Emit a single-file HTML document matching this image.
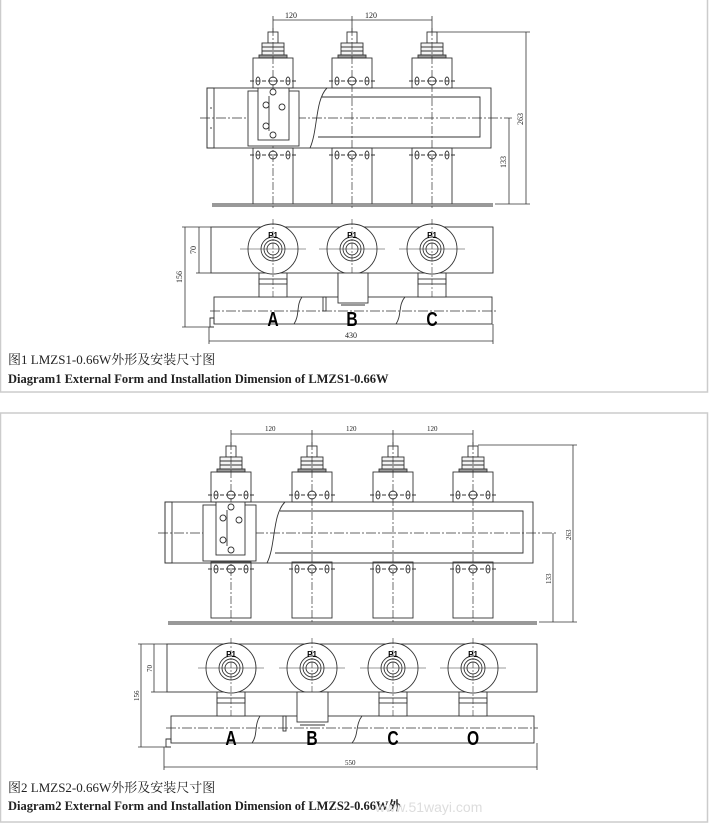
<!DOCTYPE html>
<html><head><meta charset="utf-8"><style>
html,body{margin:0;padding:0;background:#fff;}
svg{display:block;}
.t{font-family:"Liberation Serif","Noto Serif CJK SC",serif;fill:#222;}
</style></head><body>
<svg width="709" height="824" viewBox="0 0 709 824" xmlns="http://www.w3.org/2000/svg">
<defs>
<g id="fp" fill="none" stroke="#333" stroke-width="0.9">
  <rect x="-5" y="-56" width="10" height="11"/>
  <rect x="-11" y="-45" width="22" height="12" fill="#f4f4f4"/>
  <line x1="-11" y1="-41" x2="11" y2="-41"/><line x1="-11" y1="-37" x2="11" y2="-37"/>
  <rect x="-14" y="-33" width="28" height="3" fill="#999"/>
  <rect x="-20" y="-30" width="40" height="30"/>
  <circle cx="0" cy="-7" r="4"/>
  <ellipse cx="-15" cy="-7" rx="2" ry="4"/><ellipse cx="15" cy="-7" rx="2" ry="4"/>
  <line x1="-23" y1="-7" x2="23" y2="-7" stroke-dasharray="4 2"/>
  <rect x="-20" y="60" width="40" height="56"/>
  <circle cx="0" cy="67" r="4"/>
  <ellipse cx="-15" cy="67" rx="2" ry="4"/><ellipse cx="15" cy="67" rx="2" ry="4"/>
  <line x1="-23" y1="67" x2="23" y2="67" stroke-dasharray="4 2"/>
  <line x1="0" y1="-60" x2="0" y2="120" stroke-dasharray="8 2 2 2" stroke-width="0.7"/>
</g>
<g id="bp" fill="none" stroke="#333" stroke-width="0.9">
  <rect x="-14" y="24" width="28" height="24" fill="#fff"/>
  <rect x="-14" y="30" width="28" height="5"/>
  <circle r="25" fill="#fff"/><circle r="12"/><circle r="9"/><circle r="6"/>
  <line x1="-33" y1="0" x2="33" y2="0" stroke-width="0.6"/>
  <line x1="0" y1="-30" x2="0" y2="50" stroke-width="0.6" stroke-dasharray="6 2 2 2"/>
  <text x="0" y="-11" font-size="8" font-weight="bold" text-anchor="middle" fill="#000" stroke="none" font-family="Liberation Sans,sans-serif">P1</text>
</g>
</defs>

<rect x="0.5" y="-2" width="707" height="394" fill="none" stroke="#ccc" stroke-width="1.5"/>
<rect x="0.5" y="413" width="707" height="409" fill="none" stroke="#ccc" stroke-width="1.5"/>

<g fill="none" stroke="#333" stroke-width="0.9">
  <rect x="207" y="88" width="284" height="60" fill="#fff"/>
  <rect x="207" y="88" width="7" height="60"/>
  <path d="M327 88 C315 100 318 130 310 148"/>
  <path d="M322 97 H480 V137 H318"/>
  <line x1="212" y1="204" x2="493" y2="204"/><line x1="212" y1="206" x2="493" y2="206"/>
  <line x1="200" y1="118" x2="512" y2="118" stroke-dasharray="10 2 2 2" stroke-width="0.7"/>
</g>
<use href="#fp" x="273" y="88"/><use href="#fp" x="352" y="88"/><use href="#fp" x="432" y="88"/>
<g fill="none" stroke="#333" stroke-width="0.9">
  <rect x="248" y="91" width="51" height="55" fill="#fff"/>
  <rect x="258" y="88" width="31" height="52" fill="#fff"/>
  <circle cx="273" cy="92" r="3"/><circle cx="273" cy="135" r="3"/>
  <circle cx="266" cy="105" r="3"/><circle cx="266" cy="126" r="3"/><circle cx="282" cy="107" r="3"/>
  <line x1="269" y1="96" x2="269" y2="131"/>
  <line x1="210" y1="108" x2="212" y2="108"/><line x1="210" y1="128" x2="212" y2="128"/>
</g>
<g stroke="#333" stroke-width="0.8" fill="none">
  <line x1="273" y1="20" x2="432" y2="20"/>
  <line x1="273" y1="16" x2="273" y2="32"/><line x1="352" y1="16" x2="352" y2="32"/><line x1="432" y1="16" x2="432" y2="32"/>
  <line x1="437" y1="32" x2="530" y2="32"/>
  <line x1="526" y1="32" x2="526" y2="204"/>
  <line x1="495" y1="204" x2="530" y2="204"/>
  <line x1="509" y1="118" x2="509" y2="204"/>
</g>
<text class="t" x="285" y="18" font-size="8">120</text>
<text class="t" x="365" y="18" font-size="8">120</text>
<text class="t" font-size="8" transform="translate(523,125) rotate(-90)">263</text>
<text class="t" font-size="8" transform="translate(506,168) rotate(-90)">133</text>

<g fill="none" stroke="#333" stroke-width="0.9">
  <rect x="211" y="227" width="282" height="46" fill="#fff"/>
  <rect x="214" y="297" width="278" height="27" fill="#fff"/>
  <path d="M214 324 V318 H210 V327 H214"/>
  <line x1="210" y1="311" x2="496" y2="311" stroke-dasharray="10 2 2 2" stroke-width="0.7"/>
  <path d="M302 297 C296 305 300 315 294 324"/>
  <path d="M405 297 C398 305 402 315 396 324"/>
  <rect x="323" y="297" width="3" height="14"/>
</g>
<use href="#bp" x="273" y="249"/><use href="#bp" x="352" y="249"/><use href="#bp" x="432" y="249"/>
<g fill="none" stroke="#333" stroke-width="0.9"><rect x="338" y="273" width="30" height="30" fill="#fff"/><line x1="341" y1="305" x2="365" y2="305"/></g>
<g font-family="Liberation Sans,sans-serif" font-weight="bold" font-size="20" fill="#000" text-anchor="middle">
  <text transform="translate(273,326) scale(0.78,1)">A</text><text transform="translate(352,326) scale(0.78,1)">B</text><text transform="translate(432,326) scale(0.78,1)">C</text>
</g>
<g stroke="#333" stroke-width="0.8" fill="none">
  <line x1="209" y1="341" x2="493" y2="341"/><line x1="209" y1="327" x2="209" y2="344"/><line x1="493" y1="324" x2="493" y2="344"/>
  <line x1="185" y1="227" x2="185" y2="327"/><line x1="182" y1="227" x2="211" y2="227"/><line x1="182" y1="327" x2="210" y2="327"/>
  <line x1="199" y1="227" x2="199" y2="273"/><line x1="196" y1="273" x2="211" y2="273"/>
</g>
<text class="t" x="345" y="338" font-size="8">430</text>
<text class="t" font-size="8" transform="translate(182,283) rotate(-90)">156</text>
<text class="t" font-size="8" transform="translate(196,254) rotate(-90)">70</text>

<text class="t" x="8" y="364" font-size="13">图1  LMZS1-0.66W外形及安装尺寸图</text>
<text class="t" x="8" y="383" font-size="12.5" font-weight="bold">Diagram1  External Form and Installation Dimension of LMZS1-0.66W</text>

<g fill="none" stroke="#333" stroke-width="0.9">
  <rect x="165" y="502" width="368" height="61" fill="#fff"/>
  <rect x="165" y="502" width="7" height="61"/>
  <path d="M285 502 C272 515 276 545 267 563"/>
  <path d="M280 511 H523 V553 H275"/>
  <line x1="168" y1="622" x2="537" y2="622"/><line x1="168" y1="624" x2="537" y2="624"/>
  <line x1="158" y1="533" x2="556" y2="533" stroke-dasharray="10 2 2 2" stroke-width="0.7"/>
</g>
<use href="#fp" x="231" y="502"/><use href="#fp" x="312" y="502"/><use href="#fp" x="393" y="502"/><use href="#fp" x="473" y="502"/>
<g fill="none" stroke="#333" stroke-width="0.9">
  <rect x="203" y="505" width="53" height="56" fill="#fff"/>
  <rect x="216" y="502" width="29" height="53" fill="#fff"/>
  <circle cx="231" cy="507" r="3"/><circle cx="231" cy="550" r="3"/>
  <circle cx="223" cy="518" r="3"/><circle cx="223" cy="540" r="3"/><circle cx="239" cy="520" r="3"/>
  <line x1="227" y1="510" x2="227" y2="546"/>
</g>
<g stroke="#333" stroke-width="0.8" fill="none">
  <line x1="231" y1="434" x2="473" y2="434"/>
  <line x1="231" y1="430" x2="231" y2="445"/><line x1="312" y1="430" x2="312" y2="445"/><line x1="393" y1="430" x2="393" y2="445"/><line x1="473" y1="430" x2="473" y2="445"/>
  <line x1="478" y1="445" x2="577" y2="445"/>
  <line x1="573" y1="445" x2="573" y2="622"/>
  <line x1="539" y1="622" x2="577" y2="622"/>
  <line x1="553" y1="533" x2="553" y2="622"/>
</g>
<text class="t" x="265" y="431" font-size="7">120</text>
<text class="t" x="346" y="431" font-size="7">120</text>
<text class="t" x="427" y="431" font-size="7">120</text>
<text class="t" font-size="7" transform="translate(571,540) rotate(-90)">263</text>
<text class="t" font-size="7" transform="translate(551,584) rotate(-90)">133</text>

<g fill="none" stroke="#333" stroke-width="0.9">
  <rect x="167" y="644" width="370" height="48" fill="#fff"/>
  <rect x="171" y="716" width="363" height="27" fill="#fff"/>
  <path d="M171 743 V739 H166 V747 H171"/>
  <line x1="166" y1="728" x2="538" y2="728" stroke-dasharray="10 2 2 2" stroke-width="0.7"/>
  <path d="M260 716 C254 725 258 735 252 743"/>
  <path d="M362 716 C355 725 359 735 352 743"/>
  <rect x="283" y="716" width="3" height="15"/>
</g>
<use href="#bp" x="231" y="668"/><use href="#bp" x="312" y="668"/><use href="#bp" x="393" y="668"/><use href="#bp" x="473" y="668"/>
<g fill="none" stroke="#333" stroke-width="0.9"><rect x="297" y="692" width="31" height="30" fill="#fff"/><line x1="300" y1="725" x2="325" y2="725"/></g>
<g font-family="Liberation Sans,sans-serif" font-weight="bold" font-size="20" fill="#000" text-anchor="middle">
  <text transform="translate(231,745) scale(0.78,1)">A</text><text transform="translate(312,745) scale(0.78,1)">B</text><text transform="translate(393,745) scale(0.78,1)">C</text><text transform="translate(473,745) scale(0.78,1)">O</text>
</g>
<g stroke="#333" stroke-width="0.8" fill="none">
  <line x1="164" y1="767" x2="537" y2="767"/><line x1="164" y1="747" x2="164" y2="770"/><line x1="537" y1="743" x2="537" y2="770"/>
  <line x1="141" y1="644" x2="141" y2="747"/><line x1="138" y1="644" x2="167" y2="644"/><line x1="138" y1="747" x2="166" y2="747"/>
  <line x1="154" y1="644" x2="154" y2="692"/><line x1="151" y1="692" x2="167" y2="692"/>
</g>
<text class="t" x="345" y="765" font-size="7">550</text>
<text class="t" font-size="7" transform="translate(139,701) rotate(-90)">156</text>
<text class="t" font-size="7" transform="translate(152,672) rotate(-90)">70</text>

<text class="t" x="8" y="792" font-size="13">图2  LMZS2-0.66W外形及安装尺寸图</text>
<text class="t" x="8" y="810" font-size="12.5" font-weight="bold">Diagram2  External Form and Installation Dimension of  LMZS2-0.66W外</text>
<text x="375" y="812" font-size="14" fill="#ddd" font-family="Liberation Sans,sans-serif">www.51wayi.com</text>
</svg>
</body></html>
